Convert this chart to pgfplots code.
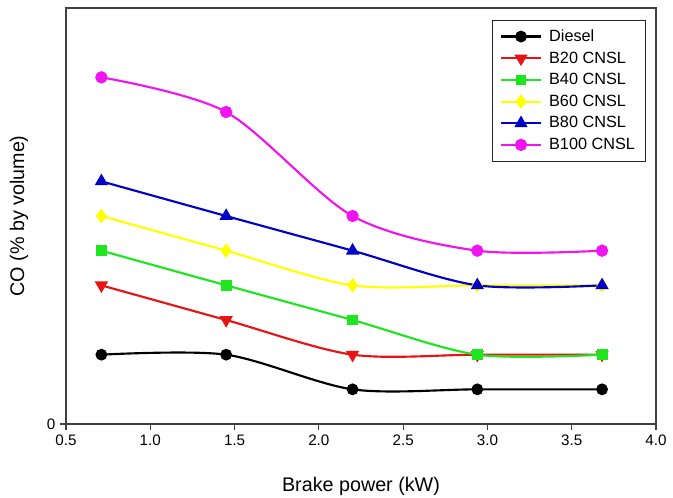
\documentclass[border=0pt]{standalone}
\usepackage{fontspec}
\setmainfont{Liberation Sans}
\usepackage{pgfplots}
\pgfplotsset{compat=1.18}
\definecolor{cblue}{RGB}{0,0,200}
\definecolor{cred}{RGB}{230,20,20}
\definecolor{cgreen}{RGB}{30,230,30}
\definecolor{cyellow}{RGB}{255,255,0}
\definecolor{cmag}{RGB}{240,20,240}
\begin{document}
\begin{tikzpicture}
\begin{axis}[
  scale only axis,
  width=442.5pt, height=312pt,
  xmin=0.5, xmax=4.0, ymin=0, ymax=0.12,
  xtick={0.5,1.0,...,4.0},
  ytick={0},
  xticklabel style={/pgf/number format/fixed,/pgf/number format/fixed zerofill,/pgf/number format/precision=1},
  /pgf/number format/assume math mode=true,
  tick label style={font=\fontsize{11.4}{13}\selectfont},
  tick align=outside,
  xtick pos=bottom, ytick pos=left,
  major tick length=4.5pt,
  axis line style={line width=0.8pt, black!75},
  every tick/.style={line width=0.8pt, black!75},
  xlabel={Brake power (kW)},
  ylabel={CO (\% by volume)},
  every axis x label/.style={at={(axis description cs:0.5,-0.149)}, anchor=center, font=\fontsize{14.8}{17}\selectfont},
  every axis y label/.style={at={(axis description cs:-0.0797,0.5)}, rotate=90, anchor=center, font=\fontsize{14.8}{17}\selectfont},
  legend style={at={(axis description cs:0.983,0.971)}, anchor=north east,
    font=\fontsize{12.2}{14}\selectfont, draw=black!85,
    row sep=2.2pt, inner xsep=6pt, inner ysep=5pt, cells={anchor=west}},
  legend image code/.code={
    \draw[line width=1.6pt, mark repeat=2,mark phase=2] plot coordinates {(0cm,0cm) (0.52cm,0cm) (1.04cm,0cm)};
    \path (1.04cm+3.5pt,0cm);},
]
\addplot[black, line width=1.6pt, smooth, mark=*, mark size=3.6pt, mark options={solid}] coordinates {(0.71,0.02) (1.45,0.02) (2.20,0.01) (2.94,0.01) (3.68,0.01)};
\addlegendentry{Diesel}
\addplot[cred, line width=1.6pt, smooth, mark=triangle*, mark size=4.2pt, mark options={rotate=180}] coordinates {(0.71,0.04) (1.45,0.03) (2.20,0.02) (2.94,0.02) (3.68,0.02)};
\addlegendentry{B20 CNSL}
\addplot[cgreen, line width=1.6pt, smooth, mark=square*, mark size=3.3pt] coordinates {(0.71,0.05) (1.45,0.04) (2.20,0.03) (2.94,0.02) (3.68,0.02)};
\addlegendentry{B40 CNSL}
\addplot[cyellow, line width=1.6pt, smooth, mark=diamond*, mark size=4.2pt] coordinates {(0.71,0.06) (1.45,0.05) (2.20,0.04) (2.94,0.04) (3.68,0.04)};
\addlegendentry{B60 CNSL}
\addplot[cblue, line width=1.6pt, smooth, mark=triangle*, mark size=4.2pt] coordinates {(0.71,0.07) (1.45,0.06) (2.20,0.05) (2.94,0.04) (3.68,0.04)};
\addlegendentry{B80 CNSL}
\addplot[cmag, line width=1.6pt, smooth, mark=*, mark size=3.8pt] coordinates {(0.71,0.10) (1.45,0.09) (2.20,0.06) (2.94,0.05) (3.68,0.05)};
\addlegendentry{B100 CNSL}
\end{axis}
\pgfresetboundingbox
\path[use as bounding box] ([shift={(-49.5pt,-54.75pt)}]current axis.south west) rectangle ([shift={(455.25pt,318pt)}]current axis.south west);
\end{tikzpicture}
\end{document}
